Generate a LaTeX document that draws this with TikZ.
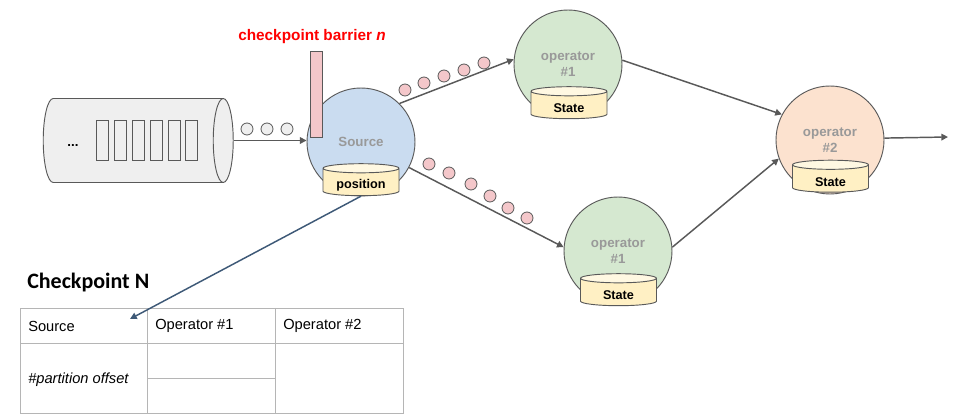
\documentclass[tikz,border=0pt]{standalone}
\usepackage{fontspec}
\setmainfont{Liberation Sans}
\newfontfamily\calibfont{Carlito}
\usetikzlibrary{shapes.geometric,arrows.meta,positioning}
\definecolor{srcblue}{HTML}{CADCF0}
\definecolor{opgreen}{HTML}{D5E8D0}
\definecolor{oporange}{HTML}{FCE2CF}
\definecolor{dbyellow}{HTML}{FFF0C4}
\definecolor{dbtop}{HTML}{FFF8E2}
\definecolor{recpink}{HTML}{F4C7CA}
\definecolor{lightgrey}{HTML}{EFEFEF}
\definecolor{edgegrey}{HTML}{595959}
\definecolor{labelgrey}{HTML}{999999}
\definecolor{tblgrey}{HTML}{B5B5B5}
\definecolor{linkblue}{HTML}{3E5977}
\tikzset{
  opcircle/.style={circle, draw=edgegrey, line width=0.7pt, minimum size=81pt, inner sep=0pt,
    font=\bfseries\fontsize{10}{12}\selectfont, text=labelgrey, align=center},
  statedb/.style={cylinder, shape border rotate=90, draw=edgegrey, line width=0.7pt, aspect=0.12,
    cylinder uses custom fill, cylinder body fill=dbyellow, cylinder end fill=dbtop,
    inner xsep=28.5pt, inner ysep=0pt, minimum height=24pt,
    label={[yshift=-0.7pt, font=\bfseries\fontsize{9.5}{11}\selectfont]center:#1}},
  record/.style={circle, draw=edgegrey, line width=0.6pt, fill=recpink, minimum size=9pt, inner sep=0pt},
  flow/.style={-{Triangle[length=5pt,width=5pt]}, draw=edgegrey, line width=1.1pt},
  celltext/.style={anchor=west, inner sep=0pt, font=\fontsize{11}{13}\selectfont}
}
\begin{document}
\begin{tikzpicture}[x=0.75pt, y=-0.75pt]
            \useasboundingbox (0,0) rectangle (958,416);
            % queue
            \node[cylinder, draw=edgegrey, line width=0.7pt, fill=lightgrey, aspect=0.238,
                  inner xsep=0pt, inner ysep=31.5pt, minimum height=142.5pt] (queue) at (128,140.5) {};
            \node[font=\bfseries] (dots) at (73,146) {...};
            \foreach \bx in {102,120,138,156.5,174.5,191} {
              \node[draw=edgegrey, line width=0.6pt, minimum width=9pt, minimum height=30pt, inner sep=0pt] at (\bx,140) {};
            }
            \node[circle, draw=edgegrey, line width=0.6pt, fill=lightgrey, minimum size=9pt, inner sep=0pt] (g1) at (247,129) {};
            \node[circle, draw=edgegrey, line width=0.6pt, fill=lightgrey, minimum size=9pt, inner sep=0pt] (g2) at (267,129) {};
            \node[circle, draw=edgegrey, line width=0.6pt, fill=lightgrey, minimum size=9pt, inner sep=0pt] (g3) at (287,129) {};

            % operators
            \node[opcircle, fill=srcblue] (source) at (361,142) {Source};
            \node[opcircle, fill=opgreen] (opA) at (568,64) {operator\\\#1};
            \node[opcircle, fill=opgreen] (opB) at (618,251) {operator\\\#1};
            \node[opcircle, fill=oporange] (opC) at (830,140) {operator\\\#2};

            % state
            \node[statedb=position] (pos) at (361,184.5) {};
            \node[statedb=State] (stA) at (569,107.5) {};
            \node[statedb=State] (stB) at (618.5,294.5) {};
            \node[statedb=State] (stC) at (830.5,181) {};

            % barrier
            \node[draw=edgegrey, line width=0.6pt, fill=recpink, minimum width=9pt, minimum height=64pt, inner sep=0pt] (barrier) at (316,94.5) {};
            \node[text=red, font=\bfseries\fontsize{11.5}{13}\selectfont] (barrierlbl) at (312,37) {checkpoint barrier \textit{n}};

            % streams
            \coordinate (out) at (948,137);
            \draw[flow] (queue.east) -- (queue.east -| source.west);
            \draw[flow] (source.45) -- (opA.175);
            \draw[flow] (source.332) -- (opB.176);
            \draw[flow] (opA.4) -- (opC.152);
            \draw[flow] (opB.4) -- (opC.200);
            \draw[flow] (opC.2) -- (out);

            \node[record] (a1) at (405,90) {};
            \node[record] (a2) at (424,83) {};
            \node[record] (a3) at (444,76) {};
            \node[record] (a4) at (464,70) {};
            \node[record] (a5) at (484,63) {};
            \node[record] (b1) at (429,164) {};
            \node[record] (b2) at (449,173) {};
            \node[record] (b3) at (471,184) {};
            \node[record] (b4) at (490,196) {};
            \node[record] (b5) at (508,208) {};
            \node[record] (b6) at (527,218) {};

            % snapshot table
            \node[font=\calibfont\bfseries\fontsize{16.5}{19}\selectfont, anchor=west, inner sep=0pt] (title) at (27,283) {Checkpoint N};
            \draw[tblgrey, line width=0.6pt] (20,308) rectangle (403,413);
            \draw[tblgrey, line width=0.6pt] (20,343) -- (403,343);
            \draw[tblgrey, line width=0.6pt] (147,308) -- (147,413);
            \draw[tblgrey, line width=0.6pt] (275,308) -- (275,413);
            \draw[tblgrey, line width=0.6pt] (147,378) -- (275,378);
            \node[celltext] (hsrc) at (28,326) {Source};
            \node[celltext] (hop1) at (155,326) {Operator \#1};
            \node[celltext] (hop2) at (283,326) {Operator \#2};
            \node[celltext] (offs) at (28,380) {\itshape \#partition offset};

            \coordinate (hit) at (130,319);
            \draw[-{Triangle[length=5pt,width=5pt]}, draw=linkblue, line width=1.1pt] (pos.south) -- (hit);
\end{tikzpicture}
\end{document}
